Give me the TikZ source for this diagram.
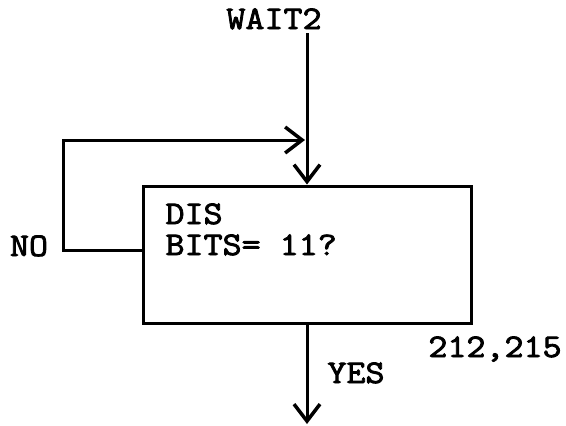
\documentclass[tikz,border=0pt]{standalone}
\usepackage{fontspec}
\newfontfamily\typew[FakeBold=2.5,FakeStretch=1.12]{Latin Modern Mono}
\usetikzlibrary{arrows.meta}
\begin{document}
\begin{tikzpicture}[x=1pt,y=-1pt,
  line width=3pt,
  arr/.style={-{Straight Barb[length=17pt,width=26pt,line width=3.5pt]}},
  lbl/.style={font=\fontsize{33}{33}\selectfont\typew, inner sep=0pt, anchor=base},
  boxstyle/.style={draw, rectangle, minimum width=328pt, minimum height=137pt, inner sep=0pt}]
\useasboundingbox (0,0) rectangle (566,426);
\node[lbl] (wait) at (274,29) {WAIT2};
\coordinate (top) at (307,33);
\node[boxstyle] (box) at (307,254.5) {};
\node[lbl, anchor=base west] (dis) at (164,224) {DIS};
\node[lbl, anchor=base west] (bits) at (164,255) {BITS= 11?};
\node[lbl] (no) at (29,256) {NO};
\node[lbl] (yes) at (356,383) {YES};
\node[lbl] (ref) at (495,357) {212,215};
\coordinate (c1) at (63,250);
\coordinate (c2) at (63,140);
\coordinate (jn) at (305,140);
\coordinate (bot) at (307,424);
\draw[arr] (top) -- (box.north);
\draw[arr, line join=miter] ([yshift=4.5pt]box.west) -- (c1) -- (c2) -- (jn);
\draw[arr] (box.south) -- (bot);
\end{tikzpicture}
\end{document}
